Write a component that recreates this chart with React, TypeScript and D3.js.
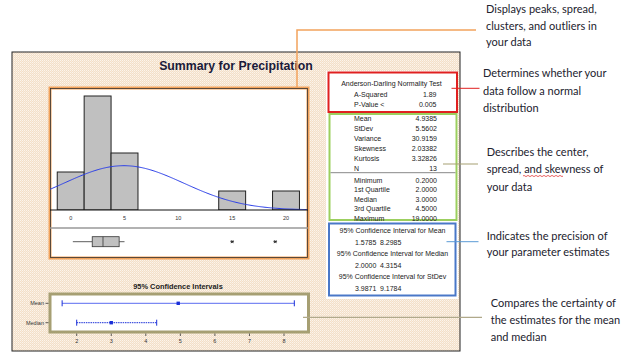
import React from "react";
import * as d3 from "d3";

// ---- Data ----
const binCenters = [0, 2.5, 5, 15, 20];
const binCounts = [2, 6, 3, 1, 1];
const binWidth = 2.5;
const histTicks = [0, 5, 10, 15, 20];
const sampleMean = 4.9385;
const sampleSd = 5.5602;
const sampleN = 13;
const boxMin = 0.2;
const boxQ1 = 2.0;
const boxMedian = 3.0;
const boxQ3 = 4.5;
const whiskerHigh = 5.0;
const outliers = [15, 19];

const ciNames = ["Mean", "Median"];
const ciLow = [1.5785, 2.0];
const ciHigh = [8.2985, 4.3154];
const ciPoint = [4.9385, 3.0];
const ciTicks = [2, 3, 4, 5, 6, 7, 8];

const adLabels = ["A-Squared", "P-Value <"];
const adValues = ["1.89", "0.005"];
const descLabels = ["Mean", "StDev", "Variance", "Skewness", "Kurtosis", "N"];
const descValues = ["4.9385", "5.5602", "30.9159", "2.03382", "3.32826", "13"];
const quantLabels = ["Minimum", "1st Quartile", "Median", "3rd Quartile", "Maximum"];
const quantValues = ["0.2000", "2.0000", "3.0000", "4.5000", "19.0000"];
const ciTableTitles = [
  "95% Confidence Interval for Mean",
  "95% Confidence Interval for Median",
  "95% Confidence Interval for StDev",
];
const ciTableLow = ["1.5785", "2.0000", "3.9871"];
const ciTableHigh = ["8.2985", "4.3154", "9.1784"];

const notes = [
  ["Displays peaks, spread,", "clusters, and outliers in", "your data"],
  ["Determines whether your", "data follow a normal", "distribution"],
  ["Describes the center,", "spread, and skewness of", "your data"],
  ["Indicates the precision of", "your parameter estimates"],
  ["Compares the certainty of", "the estimates  for the mean", "and median"],
];

const SMALL = "'Liberation Sans', Arial, sans-serif";
const NOTE_FONT = "Lato, 'Open Sans', sans-serif";

export default function App() {
  // Histogram scales
  const hx = d3.scaleLinear().domain([0, 20]).range([70.7, 286]);
  const hy = d3.scaleLinear().domain([0, 1]).range([210, 191]);
  const curveXs = d3.range(-1.95, 22.05, 0.1);
  const normal = (v: number) =>
    (sampleN * binWidth * Math.exp(-0.5 * ((v - sampleMean) / sampleSd) ** 2)) /
    (sampleSd * Math.sqrt(2 * Math.PI));
  const curvePath = d3
    .line<number>()
    .x((v) => hx(v))
    .y((v) => hy(normal(v)))
    .curve(d3.curveBasis)(curveXs) as string;

  // CI scale
  const cx = d3.scaleLinear().domain([2, 8]).range([76.7, 284]);
  const cy = d3.scalePoint<string>().domain(ciNames).range([303.3, 322.7]);

  const boxY = 241.7;
  const noteX = [486, 483, 486.7, 486.7, 490.7];
  const noteY0 = [8.3, 72.7, 151.7, 235.7, 302.7];
  const noteDy = [16.7, 17.3, 17.2, 15.6, 17];
  const FS = 7;

  return (
    <svg
      width={640}
      height={356}
      style={{ position: "absolute", left: 0, top: 0, background: "#fff" }}
    >
      <defs>
        <pattern id="dither" width="2" height="2" patternUnits="userSpaceOnUse">
          <rect width="2" height="2" fill="#f3dfc8" />
          <rect width="1" height="1" fill="#fcf5ec" />
          <rect x="1" y="1" width="1" height="1" fill="#f8ecdd" />
        </pattern>
        <clipPath id="histClip">
          <rect x={50} y={88} width={258} height={122} />
        </clipPath>
      </defs>

      {/* main panel */}
      <rect x={12} y={52} width={448} height={299} fill="url(#dither)" stroke="#222" strokeWidth={1} />
      <text x={236} y={66} textAnchor="middle" dominantBaseline="central" fontFamily={SMALL} fontWeight="bold" fontSize={12.3} fill="#1a1a3a">
        Summary for Precipitation
      </text>

      {/* histogram box */}
      <rect x={50} y={88} width={258} height={170} fill="#fff" stroke="#f2a35c" strokeWidth={3} />
      <rect x={50.5} y={88.5} width={257} height={169} fill="none" stroke="#333" strokeWidth={0.8} />
      <g clipPath="url(#histClip)">
        {binCenters.map((c, i) => (
          <rect
            key={i}
            x={hx(c - binWidth / 2)}
            y={hy(binCounts[i])}
            width={hx(c + binWidth / 2) - hx(c - binWidth / 2)}
            height={hy(0) - hy(binCounts[i])}
            fill="#c0c0c0"
            stroke="#222"
            strokeWidth={1}
          />
        ))}
        <path d={curvePath} fill="none" stroke="#2a3ee8" strokeWidth={1} />
      </g>
      <line x1={50} x2={308} y1={210} y2={210} stroke="#111" strokeWidth={1.2} />
      {histTicks.map((t) => (
        <text key={t} x={hx(t)} y={217.5} textAnchor="middle" dominantBaseline="central" fontFamily={SMALL} fontSize={5.5} fill="#333">
          {t}
        </text>
      ))}
      <line x1={50} x2={308} y1={228} y2={228} stroke="#999" strokeWidth={1.3} />
      {/* box plot */}
      <line x1={hx(boxMin)} x2={hx(boxQ1)} y1={boxY} y2={boxY} stroke="#333" strokeWidth={0.8} />
      <line x1={hx(boxQ3)} x2={hx(whiskerHigh)} y1={boxY} y2={boxY} stroke="#333" strokeWidth={0.8} />
      <rect x={hx(boxQ1)} y={boxY - 5} width={hx(boxQ3) - hx(boxQ1)} height={10} fill="#c0c0c0" stroke="#333" strokeWidth={0.8} />
      <line x1={hx(boxMedian)} x2={hx(boxMedian)} y1={boxY - 5} y2={boxY + 5} stroke="#333" strokeWidth={0.8} />
      {outliers.map((o) => {
        const x = hx(o);
        const r = 1.8;
        return (
          <path
            key={o}
            d={`M${x - r},${boxY} L${x + r},${boxY} M${x - r * 0.6},${boxY - r * 0.8} L${x + r * 0.6},${boxY + r * 0.8} M${x - r * 0.6},${boxY + r * 0.8} L${x + r * 0.6},${boxY - r * 0.8}`}
            stroke="#222"
            strokeWidth={0.9}
            fill="none"
          />
        );
      })}

      {/* CI panel */}
      <text x={178} y={286} textAnchor="middle" dominantBaseline="central" fontFamily={SMALL} fontWeight="bold" fontSize={7.4} fill="#222">
        95% Confidence Intervals
      </text>
      <rect x={50} y={294} width={258.5} height={38} fill="#fff" stroke="#a69f73" strokeWidth={3} />
      {ciNames.map((n, i) => {
        const y = cy(n) as number;
        return (
          <g key={n}>
            <text x={44} y={y} textAnchor="end" dominantBaseline="central" fontFamily={SMALL} fontSize={5.5} fill="#333">
              {n}
            </text>
            <line x1={45.5} x2={48.5} y1={y} y2={y} stroke="#333" strokeWidth={0.8} />
            <line
              x1={cx(ciLow[i])}
              x2={cx(ciHigh[i])}
              y1={y}
              y2={y}
              stroke={i === 0 ? "#5a6cf0" : "#1a2fd8"}
              strokeWidth={1}
              strokeDasharray={i === 0 ? undefined : "1.5,0.8"}
            />
            <line x1={cx(ciLow[i])} x2={cx(ciLow[i])} y1={y - 3} y2={y + 3} stroke="#1a2fd8" strokeWidth={1} />
            <line x1={cx(ciHigh[i])} x2={cx(ciHigh[i])} y1={y - 3} y2={y + 3} stroke="#1a2fd8" strokeWidth={1} />
            <rect x={cx(ciPoint[i]) - 1.7} y={y - 1.7} width={3.4} height={3.4} fill="#1a2fd8" />
          </g>
        );
      })}
      {ciTicks.map((t) => (
        <g key={t}>
          <line x1={cx(t)} x2={cx(t)} y1={333.5} y2={336} stroke="#333" strokeWidth={0.8} />
          <text x={cx(t)} y={340.5} textAnchor="middle" dominantBaseline="central" fontFamily={SMALL} fontSize={5.5} fill="#333">
            {t}
          </text>
        </g>
      ))}

      {/* stats table */}
      <rect x={326} y={71} width={132} height={228} fill="#fff" />
      <rect x={328.5} y={72.5} width={128.5} height={39.5} fill="none" stroke="#e02020" strokeWidth={2} />
      <text x={391.5} y={83.3} textAnchor="middle" dominantBaseline="central" fontFamily={SMALL} fontSize={FS} fill="#222">
        Anderson-Darling Normality Test
      </text>
      {adLabels.map((l, i) => (
        <g key={l}>
          <text x={354} y={94.3 + i * 9.8} dominantBaseline="central" fontFamily={SMALL} fontSize={FS} fill="#222">{l}</text>
          <text x={436.5} y={94.3 + i * 9.8} textAnchor="end" dominantBaseline="central" fontFamily={SMALL} fontSize={FS} fill="#222">{adValues[i]}</text>
        </g>
      ))}
      <rect x={329.5} y={114} width={127} height={106} fill="none" stroke="#9ccf5e" strokeWidth={2} />
      <line x1={330.5} x2={455.5} y1={172.7} y2={172.7} stroke="#888" strokeWidth={1} />
      {descLabels.map((l, i) => (
        <g key={l}>
          <text x={354} y={118.3 + i * 10} dominantBaseline="central" fontFamily={SMALL} fontSize={FS} fill="#222">{l}</text>
          <text x={437} y={118.3 + i * 10} textAnchor="end" dominantBaseline="central" fontFamily={SMALL} fontSize={FS} fill="#222">{descValues[i]}</text>
        </g>
      ))}
      {quantLabels.map((l, i) => (
        <g key={l}>
          <text x={354} y={180 + i * 9.6} dominantBaseline="central" fontFamily={SMALL} fontSize={FS} fill="#222">{l}</text>
          <text x={437} y={180 + i * 9.6} textAnchor="end" dominantBaseline="central" fontFamily={SMALL} fontSize={FS} fill="#222">{quantValues[i]}</text>
        </g>
      ))}
      <rect x={329} y={223.5} width={126.5} height={72} fill="none" stroke="#4a78c8" strokeWidth={2} />
      {ciTableTitles.map((t, i) => (
        <g key={t}>
          <text x={392.5} y={230.7 + i * 23} textAnchor="middle" dominantBaseline="central" fontFamily={SMALL} fontSize={FS} fill="#222">{t}</text>
          <text x={355} y={242.3 + i * 23} dominantBaseline="central" fontFamily={SMALL} fontSize={FS} fill="#222">{ciTableLow[i]}</text>
          <text x={380} y={242.3 + i * 23} dominantBaseline="central" fontFamily={SMALL} fontSize={FS} fill="#222">{ciTableHigh[i]}</text>
        </g>
      ))}

      {/* connectors */}
      <polyline points="297,88 297,30 476,30" fill="none" stroke="#f2a35c" strokeWidth={1.5} />
      <line x1={451.5} x2={479.5} y1={88.3} y2={88.3} stroke="#e02020" strokeWidth={1} />
      <line x1={443} x2={478} y1={164} y2={164} stroke="#a69f73" strokeWidth={1.2} />
      <line x1={446.5} x2={478.5} y1={241.7} y2={241.7} stroke="#5b9bd5" strokeWidth={1} />
      <line x1={303} x2={482} y1={317.3} y2={317.3} stroke="#b0a98a" strokeWidth={1.2} />

      {/* annotations */}
      {notes.map((lines, k) => (
        <g key={k}>
          {lines.map((ln, j) => (
            <text key={j} x={noteX[k]} y={noteY0[k] + j * noteDy[k]} dominantBaseline="central" fontFamily={NOTE_FONT} fontSize={11} fill="#22222e">
              {ln}
            </text>
          ))}
        </g>
      ))}
      <path d="M523,176 q1,-1.2 2,0 q1,1.2 2,0 q1,-1.2 2,0 q1,1.2 2,0 q1,-1.2 2,0 q1,1.2 2,0 q1,-1.2 2,0 q1,1.2 2,0 q1,-1.2 2,0 q1,1.2 2,0 q1,-1.2 2,0 q1,1.2 2,0 q1,-1.2 2,0 q1,1.2 2,0 q1,-1.2 2,0 q1,1.2 2,0 q1,-1.2 2,0 q1,1.2 2,0 q1,-1.2 2,0 q1,1.2 2,0" fill="none" stroke="#e02020" strokeWidth={0.7} />
    </svg>
  );
}
